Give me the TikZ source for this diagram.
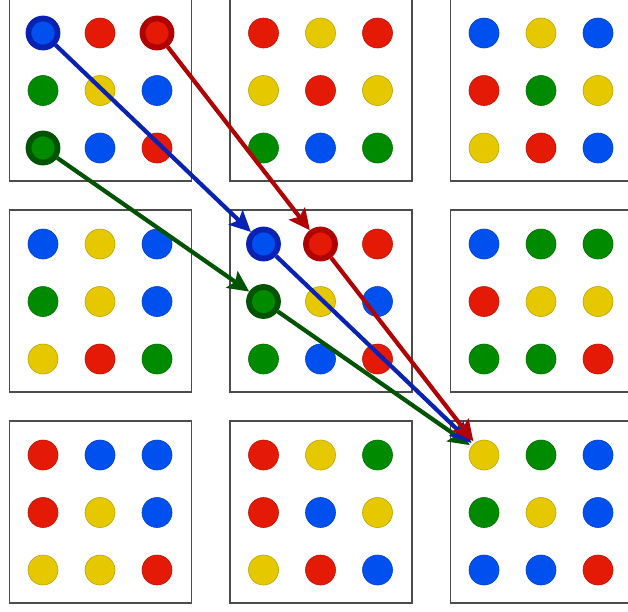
\documentclass[tikz,border=0pt]{standalone}
\usetikzlibrary{arrows.meta}

\definecolor{cred}{HTML}{E41A06}
\definecolor{cyel}{HTML}{E5C800}
\definecolor{cgrn}{HTML}{008A00}
\definecolor{cblu}{HTML}{0050EF}
\definecolor{dred}{HTML}{B00202}
\definecolor{dblu}{HTML}{0A22B4}
\definecolor{dgrn}{HTML}{005300}

\tikzset{
  frame/.style={draw=black!70, line width=1.2pt},
  dot/.style={circle, inner sep=0pt, minimum size=30pt, fill=#1,
              draw=#1!82!black, line width=0.6pt},
  ring/.style={circle, inner sep=0pt, minimum size=29pt, line width=5.8pt},
  link/.style={draw=#1, line width=4.2pt,
               -{Stealth[length=21pt,width=20pt,inset=4pt]}}
}

% one framed 3x3 block of dots: name, left, top, colours
\newcommand{\dotgrid}[4]{%
  \draw[frame] (#2,#3) rectangle ++(182,182);
  \foreach \c [count=\k from 0] in {#4} {
    \pgfmathsetmacro{\dx}{#2+33.5+57*mod(\k,3)}
    \pgfmathsetmacro{\dy}{#3+34+57.5*int(\k/3)}
    \node[dot=\c] (#1-\k) at (\dx,\dy) {};
  }%
}

\begin{document}
\begin{tikzpicture}[x=1pt, y=-1pt]
  \useasboundingbox (0,0) rectangle (628,611);

  \dotgrid{tl}{9.5}{-1}{cblu,cred,cred, cgrn,cyel,cblu, cgrn,cblu,cred}
  \dotgrid{tm}{230}{-1}{cred,cyel,cred, cyel,cred,cyel, cgrn,cblu,cgrn}
  \dotgrid{tr}{450.5}{-1}{cblu,cyel,cblu, cred,cgrn,cyel, cyel,cred,cblu}
  \dotgrid{ml}{9.5}{210}{cblu,cyel,cblu, cgrn,cyel,cblu, cyel,cred,cgrn}
  \dotgrid{mm}{230}{210}{cblu,cred,cred, cgrn,cyel,cblu, cgrn,cblu,cred}
  \dotgrid{mr}{450.5}{210}{cblu,cgrn,cgrn, cred,cyel,cyel, cgrn,cgrn,cred}
  \dotgrid{bl}{9.5}{421}{cred,cblu,cblu, cred,cyel,cblu, cyel,cyel,cred}
  \dotgrid{bm}{230}{421}{cred,cyel,cgrn, cred,cblu,cyel, cyel,cred,cblu}
  \dotgrid{br}{450.5}{421}{cyel,cgrn,cblu, cgrn,cyel,cblu, cblu,cblu,cred}

  % picked dots
  \node[ring, fill=cblu, draw=dblu] (blueA) at (tl-0) {};
  \node[ring, fill=cred, draw=dred] (redA) at (tl-2) {};
  \node[ring, fill=cgrn, draw=dgrn] (greenA) at (tl-6) {};
  \node[ring, fill=cblu, draw=dblu] (blueB) at (mm-0) {};
  \node[ring, fill=cred, draw=dred] (redB) at (mm-1) {};
  \node[ring, fill=cgrn, draw=dgrn] (greenB) at (mm-3) {};

  \draw[link=dblu] (blueA) -- (blueB);
  \draw[link=dred] (redA) -- (redB);
  \draw[link=dgrn] (greenA) -- (greenB);
  \draw[link=dgrn, shorten >=2pt] (greenB) -- (br-0);
  \draw[link=dblu, shorten >=2pt] (blueB) -- (br-0);
  \draw[link=dred, shorten >=2pt] (redB) -- (br-0);
\end{tikzpicture}
\end{document}
